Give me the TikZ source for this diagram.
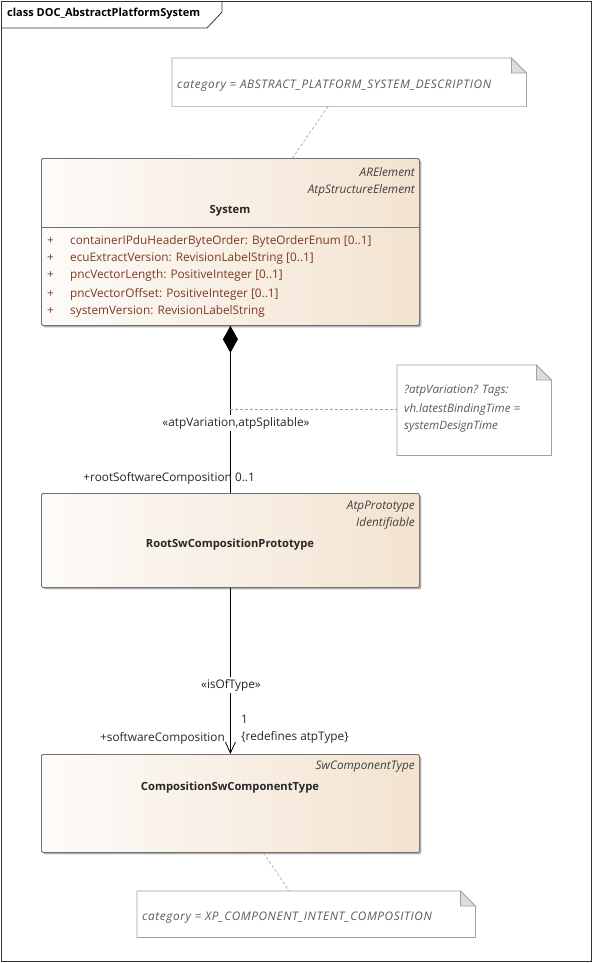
\documentclass[tikz,border=0pt]{standalone}
\usepackage{fontspec}
\setmainfont{Open Sans}
\newfontfamily\notefont[LetterSpace=5]{Open Sans}
\usetikzlibrary{arrows.meta,shadows,calc}
\definecolor{boxL}{HTML}{FDFBF9}
\definecolor{boxR}{HTML}{F3E3D0}
\definecolor{attrc}{HTML}{7B3A22}
\definecolor{notetxt}{HTML}{5A5A5A}
\definecolor{edgec}{HTML}{707070}
\definecolor{notedge}{HTML}{A0A0A0}
\definecolor{foldc}{HTML}{DCDCDC}
\tikzset{
  cls/.style={draw=edgec, line width=0.8pt, rounded corners=1.5pt, left color=boxL, right color=boxR,
    drop shadow={shadow xshift=2pt,shadow yshift=-2pt,opacity=0.3,fill=black},
    anchor=north west, inner sep=0pt},
  stereo/.style={font=\fontsize{11.8}{13}\selectfont\itshape, text=black!75, anchor=east, inner sep=0pt},
  cname/.style={font=\fontsize{11.2}{13}\selectfont\bfseries, text=black!85, anchor=center, inner sep=0pt},
  attr/.style={font=\fontsize{11.8}{13}\selectfont, text=attrc, anchor=west, inner sep=0pt},
  lbl/.style={font=\fontsize{11.8}{13}\selectfont, text=black!85, inner sep=0pt},
  notebox/.style={anchor=north west, inner sep=0pt},
  notetext/.style={font=\notefont\fontsize{11.8}{13}\selectfont\itshape, text=notetxt, anchor=west, inner sep=0pt},
  notetextb/.style={font=\fontsize{11.6}{13}\selectfont\itshape, text=notetxt, anchor=west, inner sep=0pt},
  notelink/.style={draw=notedge, dashed, dash pattern=on 3pt off 2pt, line width=0.6pt},
  assoc/.style={draw=black, line width=0.8pt}
}
\newcommand{\drawnote}[1]{%
  \fill[white] (#1.north west) -- ([xshift=-15pt]#1.north east) -- ([yshift=-15pt]#1.north east) -- (#1.south east) -- (#1.south west) -- cycle;
  \draw[notedge, line width=0.7pt] (#1.north west) -- ([xshift=-15pt]#1.north east) -- ([yshift=-15pt]#1.north east) -- (#1.south east) -- (#1.south west) -- cycle;
  \draw[notedge, fill=foldc, line width=0.7pt] ([xshift=-15pt]#1.north east) -- ([xshift=-15pt,yshift=-15pt]#1.north east) -- ([yshift=-15pt]#1.north east) -- cycle;
}
\begin{document}
\begin{tikzpicture}[x=1pt,y=-1pt]
\useasboundingbox (0,0) rectangle (593,963);
\fill[white] (0,0) rectangle (593,963);
% frame
\draw[black!80, line width=0.8pt] (1,1) rectangle (591,961);
\draw[black!80, line width=0.8pt] (1,28) -- (207,28) -- (222,12) -- (222,1);
\node[font=\fontsize{11}{13}\selectfont\bfseries, anchor=west, inner sep=0pt] (title) at (7,14) {class DOC\_AbstractPlatformSystem};

% note 1
\node[notebox, minimum width=354pt, minimum height=48pt] (note1) at (172,58) {};
\drawnote{note1}
\node[notetext] (note1t) at (177,86) {category = ABSTRACT\_PLATFORM\_SYSTEM\_DESCRIPTION};

% System
\node[cls, minimum width=378pt, minimum height=167pt] (sys) at (41,158) {};
\draw[edgec, line width=0.8pt] (41,227) -- (419,227);
\node[stereo] (s1) at (415,172) {ARElement};
\node[stereo] (s2) at (415,190) {AtpStructureElement};
\node[cname] (sysn) at (230,211) {System};
\foreach \yy/\tt/\nm in {241/{containerIPduHeaderByteOrder: ByteOrderEnum [0..1]}/a1,
  258/{ecuExtractVersion: RevisionLabelString [0..1]}/a2,
  275/{pncVectorLength: PositiveInteger [0..1]}/a3,
  294/{pncVectorOffset: PositiveInteger [0..1]}/a4,
  311/{systemVersion: RevisionLabelString}/a5}{
  \node[attr] (\nm p) at (47,\yy) {+};
  \node[attr] (\nm) at (70,\yy) {\tt};
}
\draw[notelink] ($(note1.south west)!0.44!(note1.south east)$) -- ($(sys.north west)!0.664!(sys.north east)$);

% RootSwCompositionPrototype
\node[cls, minimum width=378pt, minimum height=94pt] (root) at (41,493) {};
\node[stereo] (r1) at (415,507) {AtpPrototype};
\node[stereo] (r2) at (415,523) {Identifiable};
\node[cname] (rootn) at (230,545) {RootSwCompositionPrototype};

% CompositionSwComponentType
\node[cls, minimum width=378pt, minimum height=98pt] (comp) at (41,754) {};
\node[stereo] (c1) at (415,767) {SwComponentType};
\node[cname] (compn) at (230,788) {CompositionSwComponentType};

% note 2
\node[notebox, minimum width=154pt, minimum height=90pt] (note2) at (397,365) {};
\drawnote{note2}
\node[notetextb] (n2a) at (404,391) {?atpVariation? Tags:};
\node[notetextb] (n2b) at (404,409) {vh.latestBindingTime =};
\node[notetextb] (n2c) at (404,427) {systemDesignTime};

% note 3
\node[notebox, minimum width=338pt, minimum height=46pt] (note3) at (137,891) {};
\drawnote{note3}
\node[notetext] (n3t) at (142,918) {category = XP\_COMPONENT\_INTENT\_COMPOSITION};
\draw[notelink] ($(comp.south west)!0.587!(comp.south east)$) -- ($(note3.north west)!0.45!(note3.north east)$);

% composition association
\draw[assoc, {Diamond[length=27pt,width=15pt]}-] (sys.south) -- (root.north);
\coordinate (vv) at (230,409);
\draw[notelink] (vv) -- (vv -| note2.west);
\node[lbl, fill=white, inner xsep=1pt, inner ysep=2pt, anchor=center] (st1) at (236,423) {«atpVariation,atpSplitable»};
\node[lbl, anchor=east] (rl) at (255,478) {+rootSoftwareComposition 0..1};

% isOfType
\draw[assoc, -{Straight Barb[length=11pt,width=10pt,line width=0.8pt]}] (root.south) -- (comp.north);
\node[lbl, fill=white, inner xsep=1pt, inner ysep=2pt, anchor=center] (st2) at (231,685) {«isOfType»};
\node[lbl, anchor=west] (m1) at (241,719) {1};
\node[lbl, anchor=west] (m2) at (241,737) {\{redefines atpType\}};
\node[lbl, anchor=east] (m3) at (225,738) {+softwareComposition};
\end{tikzpicture}
\end{document}
